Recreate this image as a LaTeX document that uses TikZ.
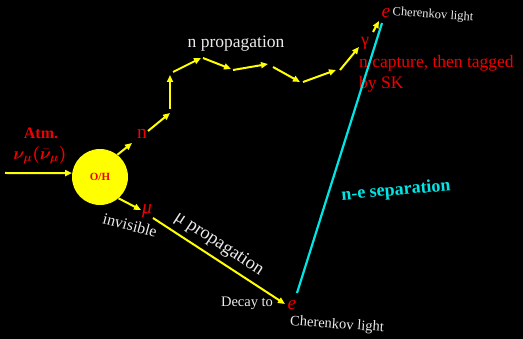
\documentclass[tikz,border=0pt]{standalone}
\usepackage{fontspec}
\setmainfont{Liberation Serif}
\usepackage{amsmath,bm}
\usetikzlibrary{arrows.meta}
\definecolor{yel}{RGB}{255,255,0}
\definecolor{rd}{RGB}{240,0,0}
\definecolor{cy}{RGB}{0,230,230}
\definecolor{wh}{RGB}{235,235,235}
\begin{document}
\begin{tikzpicture}[x=1pt,y=-1pt,
  arr/.style={draw=yel, line width=2pt, -{Triangle[length=7pt,width=6pt]}},
  redt/.style={text=rd, font=\fontsize{16}{18}\selectfont, inner sep=0pt},
  redl/.style={text=rd, font=\fontsize{19.5}{21}\selectfont, inner sep=0pt},
  wht/.style={text=wh, inner sep=0pt},
  sizeA/.style={font=\fontsize{16}{18}\selectfont},
  sizeB/.style={font=\fontsize{14.5}{16}\selectfont},
  sizeC/.style={font=\fontsize{12.5}{14}\selectfont}]
\fill[black] (0,0) rectangle (523,339);
\useasboundingbox (0,0) rectangle (523,339);

% core
\node[circle, fill=yel, minimum size=56pt, inner sep=0pt] (core) at (100,177)
  {\fontsize{11}{12}\selectfont\bfseries\color{rd}O/H};
\coordinate (in) at (5,173);
\draw[arr] (in) -- (core.172);
\node[redt, font=\fontsize{16}{18}\selectfont\bfseries] (atm) at (41,133) {Atm.};
\node[redt, font=\fontsize{17}{19}\selectfont] (nu) at (40,155) {$\bm{\nu_\mu(\bar{\nu}_\mu)}$};

% neutron
\node[redl] (n) at (142,134) {n};
\draw[arr] (core.52) -- (132,143) coordinate (nend);
% muon
\node[redl] (mu) at (147,211) {\textit{μ}};
\draw[arr] (core.-49) -- (141,210) coordinate (muend);
\node[wht, sizeA, rotate=-15] (invis) at (130,225) {invisible};

% muon propagation
\node[redl] (e1) at (292,305) {\textit{e}};
\coordinate (mustart) at (153,218);
\draw[arr] (mustart) -- (285,304) coordinate (muarr);
\node[wht, font=\fontsize{18.5}{20}\selectfont, rotate=-33.4] (mulab) at (219,244) {μ propagation};
\node[wht, sizeB] (decay) at (247,303) {Decay to};
\node[wht, sizeB, rotate=-4] (cher1) at (337,325) {Cherenkov light};

% n propagation zigzag
\coordinate (a0) at (148,131); \coordinate (b0) at (170,113);
\coordinate (a1) at (170,109); \coordinate (b1) at (170,75);
\coordinate (a2) at (173,72);  \coordinate (b2) at (201,58);
\coordinate (a3) at (203,58);  \coordinate (b3) at (231,69);
\coordinate (a4) at (233,70);  \coordinate (b4) at (268,64);
\coordinate (a5) at (273,67);  \coordinate (b5) at (300,82);
\coordinate (a6) at (303,82);  \coordinate (b6) at (336,70);
\coordinate (a7) at (340,70);  \coordinate (b7) at (359,47);
\foreach \i in {0,...,7} {\draw[arr] (a\i) -- (b\i);}
\node[wht, font=\fontsize{17.5}{19}\selectfont, anchor=base] (nprop) at (236,48) {n propagation};

% capture
\node[redl, font=\fontsize{18}{20}\selectfont] (gam) at (365,43) {γ};
\node[redl] (e2) at (386,13) {\textit{e}};
\coordinate (g0) at (373,32);
\draw[arr] (g0) -- (379,21) coordinate (g1);
\node[wht, sizeC, rotate=-4] (cher2) at (433,15) {Cherenkov light};
\node[redt, font=\fontsize{17.5}{19}\selectfont, anchor=base west] (cap1) at (359,68) {n capture, then tagged};
\node[redt, font=\fontsize{17.5}{19}\selectfont, anchor=base west] (cap2) at (359,89) {by SK};

% separation
\coordinate (s0) at (297,293);
\coordinate (s1) at (382,23);
\draw[draw=cy, line width=2.2pt] (s0) -- (s1);
\node[text=cy, inner sep=0pt, font=\fontsize{18}{20}\selectfont\bfseries, rotate=5] (sep) at (396,191) {n-e separation};
\end{tikzpicture}
\end{document}
